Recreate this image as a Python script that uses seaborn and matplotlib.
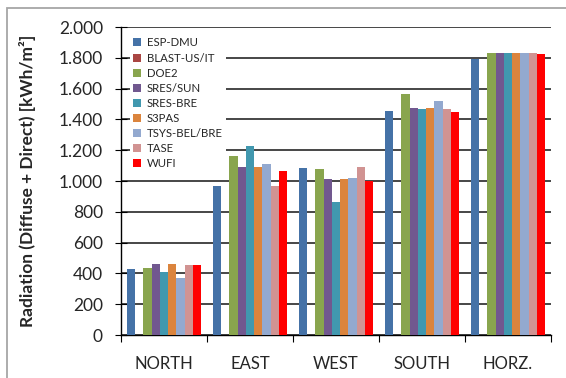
import numpy as np
import pandas as pd
import matplotlib
matplotlib.use("Agg")
import matplotlib.pyplot as plt
from matplotlib.patches import Patch, Rectangle
from matplotlib.ticker import FixedLocator
import seaborn as sns

orientations = ["NORTH", "EAST", "WEST", "SOUTH", "HORZ."]
programs = ["ESP-DMU", "BLAST-US/IT", "DOE2", "SRES/SUN", "SRES-BRE",
            "S3PAS", "TSYS-BEL/BRE", "TASE", "WUFI"]

esp_dmu = [430, 965, 1085, 1455, 1795]
blast_us_it = [np.nan, np.nan, np.nan, np.nan, np.nan]
doe2 = [435, 1165, 1080, 1567, 1832]
sres_sun = [460, 1088, 1010, 1475, 1832]
sres_bre = [408, 1225, 865, 1468, 1832]
s3pas = [460, 1088, 1010, 1475, 1832]
tsys_bel_bre = [368, 1108, 1017, 1521, 1832]
tase = [455, 970, 1093, 1468, 1832]
wufi = [455, 1062, 997, 1448, 1826]

series = [esp_dmu, blast_us_it, doe2, sres_sun, sres_bre,
          s3pas, tsys_bel_bre, tase, wufi]

colors = ["#4572A7", "#AA4643", "#89A54E", "#71588F", "#4198AF",
          "#DB843D", "#93A9CF", "#D19392", "#FF0000"]

y_ticks = [0, 200, 400, 600, 800, 1000, 1200, 1400, 1600, 1800, 2000]
y_tick_labels = ["0", "200", "400", "600", "800", "1.000", "1.200",
                 "1.400", "1.600", "1.800", "2.000"]

rows = []
for prog, vals in zip(programs, series):
    for orient, v in zip(orientations, vals):
        rows.append({"orientation": orient, "program": prog, "radiation": v})
df = pd.DataFrame(rows)

sns.set_style("white")
plt.rcParams["font.family"] = ["Lato", "DejaVu Sans"]

fig = plt.figure(figsize=(5.66, 3.78), dpi=100)
ax = fig.add_axes([121 / 566, 1 - 335 / 378, 430 / 566, 308 / 378])

palette = dict(zip(programs, colors))
sns.barplot(data=df, x="orientation", y="radiation", hue="program",
            order=orientations, hue_order=programs, palette=palette,
            width=0.87, gap=0, saturation=1, errorbar=None,
            linewidth=0, legend=False, ax=ax, zorder=3)

ax.set_xlim(-0.5, len(orientations) - 0.5)
ax.set_ylim(0, 2000)

# Horizontal gridlines
ax.yaxis.set_major_locator(FixedLocator(y_ticks))
ax.set_yticklabels(y_tick_labels)
ax.grid(axis="y", color="#383838", linewidth=1.3, zorder=0)
ax.set_axisbelow(True)

for side in ["top", "right"]:
    ax.spines[side].set_visible(False)
for side in ["left", "bottom"]:
    ax.spines[side].set_visible(True)
    ax.spines[side].set_color("black")
    ax.spines[side].set_linewidth(1.0)

ax.tick_params(axis="y", direction="inout", length=9, width=0.8,
               color="black", labelsize=12.5, pad=8.5, left=True)
# Category separators on the x axis
ax.xaxis.set_minor_locator(FixedLocator(np.arange(-0.5, len(orientations), 1.0)))
ax.tick_params(axis="x", which="minor", direction="out", length=5,
               width=0.8, color="black", bottom=True)
ax.tick_params(axis="x", which="major", length=0, labelsize=12, pad=15)

ax.set_xlabel("")
ax.set_ylabel("Radiation (Diffuse + Direct) [kWh/m²]", fontsize=12.5,
              fontweight="bold")
ax.yaxis.set_label_coords(-0.198, 0.5)

handles = [Patch(facecolor=c, edgecolor="none") for c in colors]
leg = ax.legend(handles, programs, loc="upper left",
                bbox_to_anchor=(130 / 566, 1 - 34 / 378),
                bbox_transform=fig.transFigure, fontsize=8.2,
                frameon=True, fancybox=False, framealpha=1,
                facecolor="white", edgecolor="none",
                handlelength=0.7, handleheight=0.7, handletextpad=0.45,
                labelspacing=0.36, borderpad=0.3, borderaxespad=0)
leg.set_zorder(5)

# Chart-area border
fig.add_artist(Rectangle((7 / 566, -0.1), 1.2, 1.1 - 8 / 378,
                         transform=fig.transFigure, fill=False,
                         edgecolor="#A6A6A6", linewidth=1.3))

fig.savefig("out.png", dpi=100)
